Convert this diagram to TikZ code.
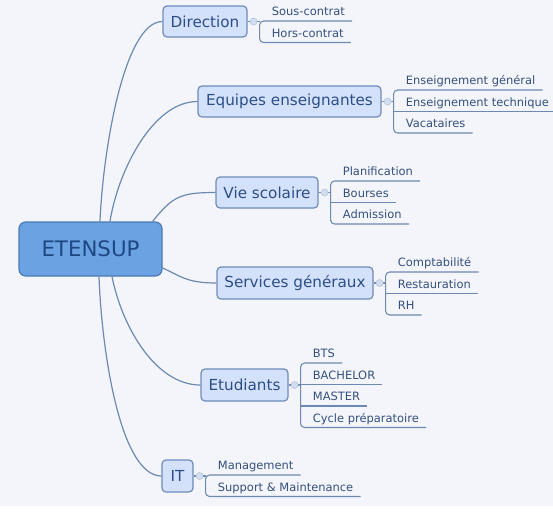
\documentclass[tikz,border=0pt]{standalone}
\usepackage{fontspec}
\setmainfont{DejaVu Sans}
\usetikzlibrary{calc}
\definecolor{bg}{HTML}{F3F5FA}
\definecolor{boxfill}{HTML}{D3E1FA}
\definecolor{boxdraw}{HTML}{6E8CBA}
\definecolor{boxtext}{HTML}{2C4E88}
\definecolor{mainfill}{HTML}{6AA2E2}
\definecolor{maindraw}{HTML}{4A79B4}
\definecolor{maintext}{HTML}{1D4884}
\definecolor{linec}{HTML}{6C89B2}
\definecolor{subtext}{HTML}{34507E}
\definecolor{dotfill}{HTML}{D3DDF0}
\definecolor{dotdraw}{HTML}{B5C6E0}
\tikzset{
  topic/.style={draw=boxdraw, fill=boxfill, line width=0.9pt, rounded corners=3pt,
    text=boxtext, font=\fontsize{11.4pt}{13pt}\selectfont, inner sep=0pt},
  central/.style={draw=maindraw, fill=mainfill, line width=0.9pt, rounded corners=5pt,
    text=maintext, font=\fontsize{16pt}{19pt}\selectfont, inner sep=0pt},
  conn/.style={draw=linec, line width=0.9pt},
  subline/.style={draw=linec, line width=0.8pt, rounded corners=3pt},
  sub/.style={text=subtext, font=\fontsize{8.6pt}{10pt}\selectfont, inner sep=0pt, anchor=base west},
  dot/.style={circle, minimum size=5.25pt, inner sep=0pt, fill=dotfill, draw=dotdraw, line width=0.5pt}
}
\newcommand\branch[4]{%
  \coordinate (#1-c) at ($(#1.east)+(6,0)$);
  \coordinate (#1-j) at ($(#1.east)+(12,0)$);
  \foreach \t [count=\i] in {#4} {
    \node[sub] (#1-\i) at ($(#1.east)+(24,{#3+(\i-1)*21.5-5.5})$) {\t};
    \coordinate (#1-v\i) at ($(#1.east)+(12,{#3+(\i-1)*21.5})$);
    \coordinate (#1-e\i) at ($(#1-\i.base east)+(7,5.5)$);
  }
  \draw[subline] (#1-e1) -- (#1-v1) -- (#1-v#2) -- (#1-e#2);
  \pgfmathtruncatemacro\lastmid{#2-1}%
  \ifnum#2>2
    \foreach \i in {2,...,\lastmid} { \draw[subline] (#1-v\i) -- (#1-e\i); }
  \fi
  \draw[subline] (#1.east) -- (#1-j);
  \node[dot] (#1-dot) at (#1-c) {};
}
\begin{document}
\begin{tikzpicture}[x=0.75pt,y=-0.75pt]
\fill[bg] (0,0) rectangle (553,506);
\fill[white] (0,506) rectangle (553,512);
\useasboundingbox (0,0) rectangle (553,512);

\node[central, minimum width=143*0.75pt, minimum height=54*0.75pt] (main) at (90.5,249) {ETENSUP};

\node[topic, minimum width=84*0.75pt, minimum height=31*0.75pt] (dir) at (205,21.5) {Direction};
\node[topic, minimum width=183*0.75pt, minimum height=31*0.75pt] (equ) at (289.5,101.5) {Equipes enseignantes};
\node[topic, minimum width=102*0.75pt, minimum height=31*0.75pt] (vie) at (267,192.5) {Vie scolaire};
\node[topic, minimum width=156*0.75pt, minimum height=32*0.75pt] (ser) at (295,283) {Services généraux};
\node[topic, minimum width=87*0.75pt, minimum height=32*0.75pt] (etu) at (244.5,385) {Etudiants};
\node[topic, minimum width=31*0.75pt, minimum height=32*0.75pt] (it) at (177.5,476) {IT};

\draw[conn] ($(main.north)+(9.5,0)$) .. controls +(3,-72) and +(-38,0) .. (dir.west);
\draw[conn] ($(main.north)+(19.5,0)$) .. controls +(8,-50) and +(-45,0) .. (equ.west);
\draw[conn] ($(main.north east)+(-10,0)$) .. controls +(20,-25) and +(-35,0) .. (vie.west);
\draw[conn] ($(main.east)+(0,19)$) .. controls +(18,8) and +(-30,0) .. (ser.west);
\draw[conn] ($(main.south)+(21.5,0)$) .. controls +(10,50) and +(-45,0) .. (etu.west);
\draw[conn] ($(main.south)+(8.5,0)$) .. controls +(3,80) and +(-40,0) .. (it.west);

\branch{dir}{2}{-0.5}{Sous-contrat,Hors-contrat}
\branch{equ}{3}{-11.5}{Enseignement général,Enseignement technique,Vacataires}
\branch{vie}{3}{-11.5}{Planification,Bourses,Admission}
\branch{ser}{3}{-11}{Comptabilité,Restauration,RH}
\branch{etu}{4}{-22}{BTS,BACHELOR,MASTER,Cycle préparatoire}
\branch{it}{2}{-1}{Management,Support \& Maintenance}
\end{tikzpicture}
\end{document}
